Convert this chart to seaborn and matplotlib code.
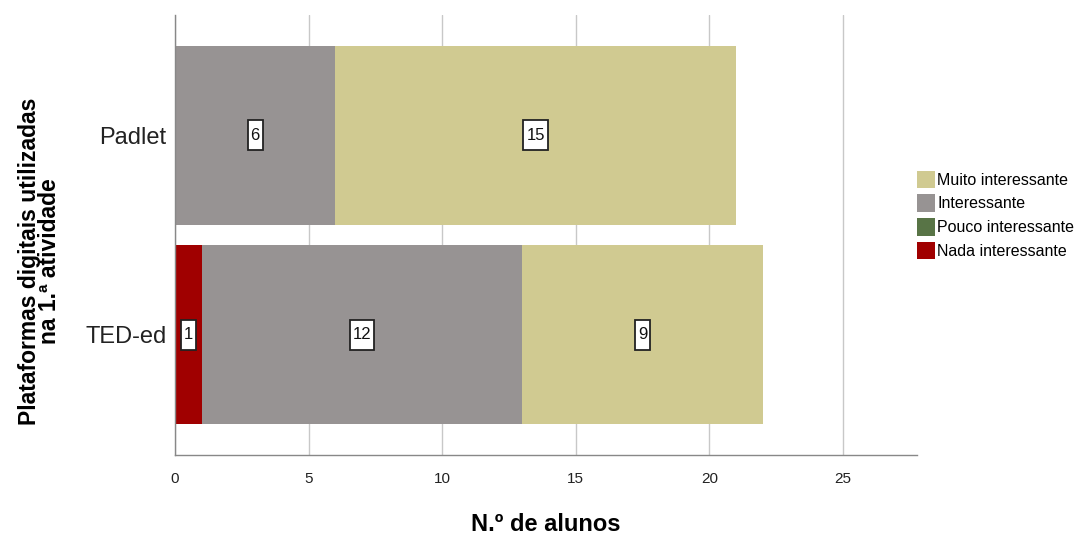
import pandas as pd
import matplotlib
matplotlib.use("Agg")
import matplotlib.pyplot as plt
import seaborn as sns
from matplotlib.patches import Patch, Rectangle

# dados
plataformas = ["Padlet", "TED-ed"]
categorias = ["Muito interessante", "Interessante", "Pouco interessante", "Nada interessante"]
nada = [0, 1]
pouco = [0, 0]
interessante = [6, 12]
muito = [15, 9]

cores = {
    "Muito interessante": "#D0CA91",
    "Interessante": "#979393",
    "Pouco interessante": "#587446",
    "Nada interessante": "#A00000",
}

sns.set_style("white", {"text.color": "black", "axes.labelcolor": "black",
                         "xtick.color": "black", "ytick.color": "black"})
plt.rcParams['font.family'] = ['Liberation Sans', 'DejaVu Sans']

df = pd.DataFrame({"plataforma": plataformas, "nada": nada, "pouco": pouco,
                   "interessante": interessante, "muito": muito})
df["c_nada"] = df["nada"]
df["c_pouco"] = df["c_nada"] + df["pouco"]
df["c_int"] = df["c_pouco"] + df["interessante"]
df["c_muito"] = df["c_int"] + df["muito"]

fig = plt.figure(figsize=(10.75, 5.4), dpi=100)
ax = fig.add_axes([175 / 1075, 1 - 455 / 540, (917 - 175) / 1075, 440 / 540])

largura = 0.895
for col, cat in [("c_muito", "Muito interessante"), ("c_int", "Interessante"),
                 ("c_pouco", "Pouco interessante"), ("c_nada", "Nada interessante")]:
    sns.barplot(data=df, x=col, y="plataforma", color=cores[cat], width=largura,
                orient="h", ax=ax, saturation=1, linewidth=0, zorder=2)

ax.set_xlim(0, 27.77)
ax.set_ylim(1.605, -0.605)

# rótulos com caixa branca (caixa estreita e alta, como no SPSS)
textos = []
for i, row in df.iterrows():
    for ini, val in [(0, row["nada"]), (row["c_pouco"], row["interessante"]),
                     (row["c_int"], row["muito"])]:
        if val > 0:
            t = ax.text(ini + val / 2, i, str(val), ha="center", va="center",
                        fontsize=12, color="#111111", zorder=6)
            textos.append(t)

fig.canvas.draw()
rend = fig.canvas.get_renderer()
for t in textos:
    bb = t.get_window_extent(rend)
    cx, cy = (bb.x0 + bb.x1) / 2, (bb.y0 + bb.y1) / 2
    w, h = bb.width + 6, 30
    rect = Rectangle((cx - w / 2, cy - h / 2), w, h, transform=None,
                     fc="white", ec="#222222", lw=1.3, zorder=5)
    ax.add_artist(rect)

ax.set_xticks([0, 5, 10, 15, 20, 25])
ax.tick_params(axis="x", labelsize=11, length=0, pad=12, labelcolor="#222222")
ax.tick_params(axis="y", labelsize=17, length=0, pad=6, labelcolor="#222222")
ax.grid(axis="x", color="#c8c8c8", lw=1, zorder=0)
ax.set_axisbelow(True)
for s in ["top", "right"]:
    ax.spines[s].set_visible(False)
for s in ["left", "bottom"]:
    ax.spines[s].set_color("#888888")
    ax.spines[s].set_linewidth(1)

ax.set_xlabel("N.º de alunos", fontsize=17, fontweight="bold", labelpad=20)
ax.set_ylabel("Plataformas digitais utilizadas\nna 1.ª atividade", fontsize=16.5,
              fontweight="bold", labelpad=20, linespacing=0.85)
ax.yaxis.set_label_coords(-0.153, 0.44)

handles = [Patch(facecolor=cores[c], edgecolor="none") for c in categorias]
fig.legend(handles, categorias, loc="center left", bbox_to_anchor=(911 / 1075, 1 - 215 / 540),
           frameon=False, fontsize=11.5, handlelength=1.1, handleheight=1.3,
           handletextpad=0.15, labelspacing=0.4, borderaxespad=0)

fig.savefig("out.png", dpi=100)
